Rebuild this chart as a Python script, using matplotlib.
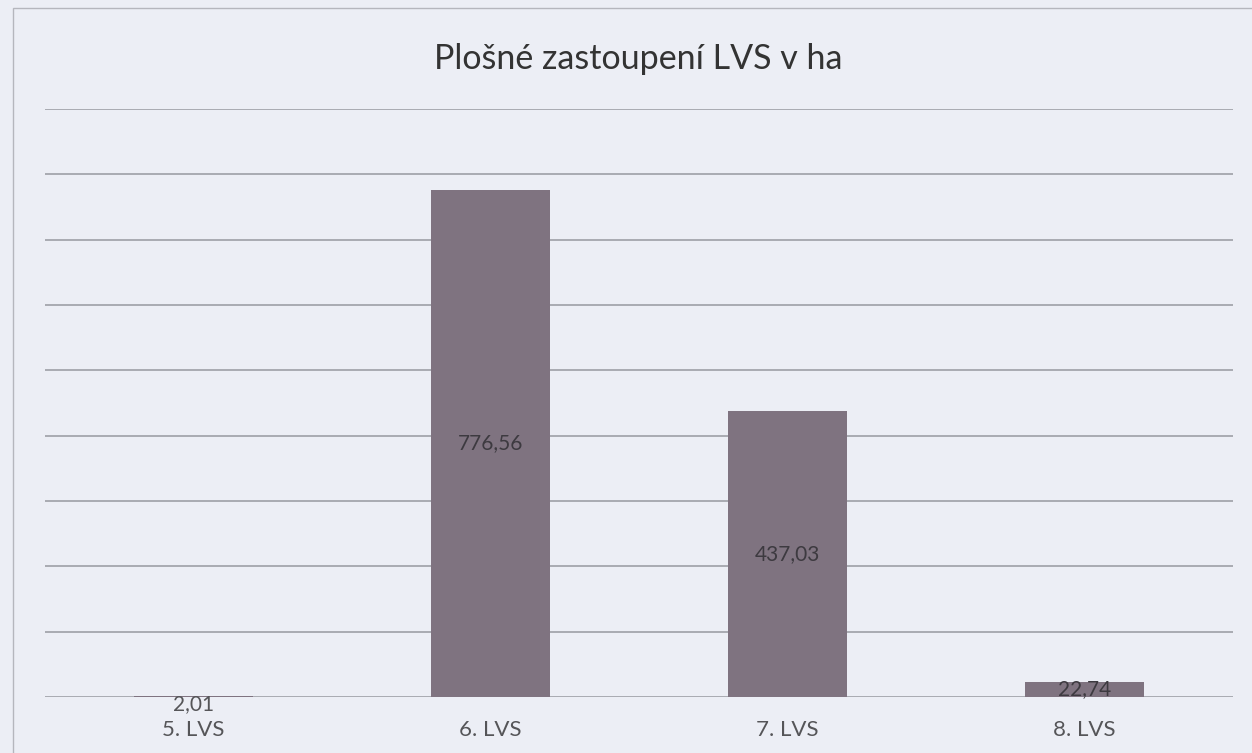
import matplotlib
matplotlib.use('Agg')
import matplotlib.pyplot as plt
from matplotlib import rcParams

rcParams['font.family'] = ['Lato', 'DejaVu Sans']

categories = ['5. LVS', '6. LVS', '7. LVS', '8. LVS']
areas_ha = [2.01, 776.56, 437.03, 22.74]
value_labels = ['2,01', '776,56', '437,03', '22,74']
title = 'Plošné zastoupení LVS v ha'

paper = '#eceef5'
bar_color = '#7f7380'
grid_color = '#9798a0'
text_color = '#555558'

fig = plt.figure(figsize=(12.52, 7.53), dpi=100, facecolor=paper)
ax = fig.add_axes([0.036, 0.0744, 0.949, 0.781], facecolor=paper)

x = list(range(len(categories)))
bars = ax.bar(x, areas_ha, width=0.40, color=bar_color, zorder=3)

ax.set_xlim(-0.5, len(categories) - 0.5)
ax.set_ylim(0, 900)
ax.set_yticks(range(0, 901, 100))
ax.yaxis.grid(True, color=grid_color, linewidth=1.1, zorder=0)
ax.tick_params(axis='y', left=False, labelleft=False)
ax.tick_params(axis='x', bottom=False, labelsize=16, labelcolor=text_color, pad=13)
ax.set_xticks(x)
ax.set_xticklabels(categories)
for s in ax.spines.values():
    s.set_visible(False)

# value labels centred in the bars (the tiny one drops below the axis)
for b, v, lab in zip(bars, areas_ha, value_labels):
    cx = b.get_x() + b.get_width() / 2
    if v < 10:
        ax.annotate(lab, (cx, 0), xytext=(0, -5), textcoords='offset points',
                    ha='center', va='center', fontsize=15, color=text_color)
    else:
        ax.text(cx, v / 2, lab, ha='center', va='center', fontsize=15,
                color='#3d3a40', zorder=4)

fig.text(0.51, 0.922, title, ha='center', va='center', fontsize=24.5, color='#333333')

# chart frame
fig.add_artist(plt.Rectangle((0.010, -0.01), 1.0, 1.0, transform=fig.transFigure,
                             fill=False, edgecolor='#b5b6bd', linewidth=1.0))

fig.savefig('out.png', dpi=100, facecolor=paper)
